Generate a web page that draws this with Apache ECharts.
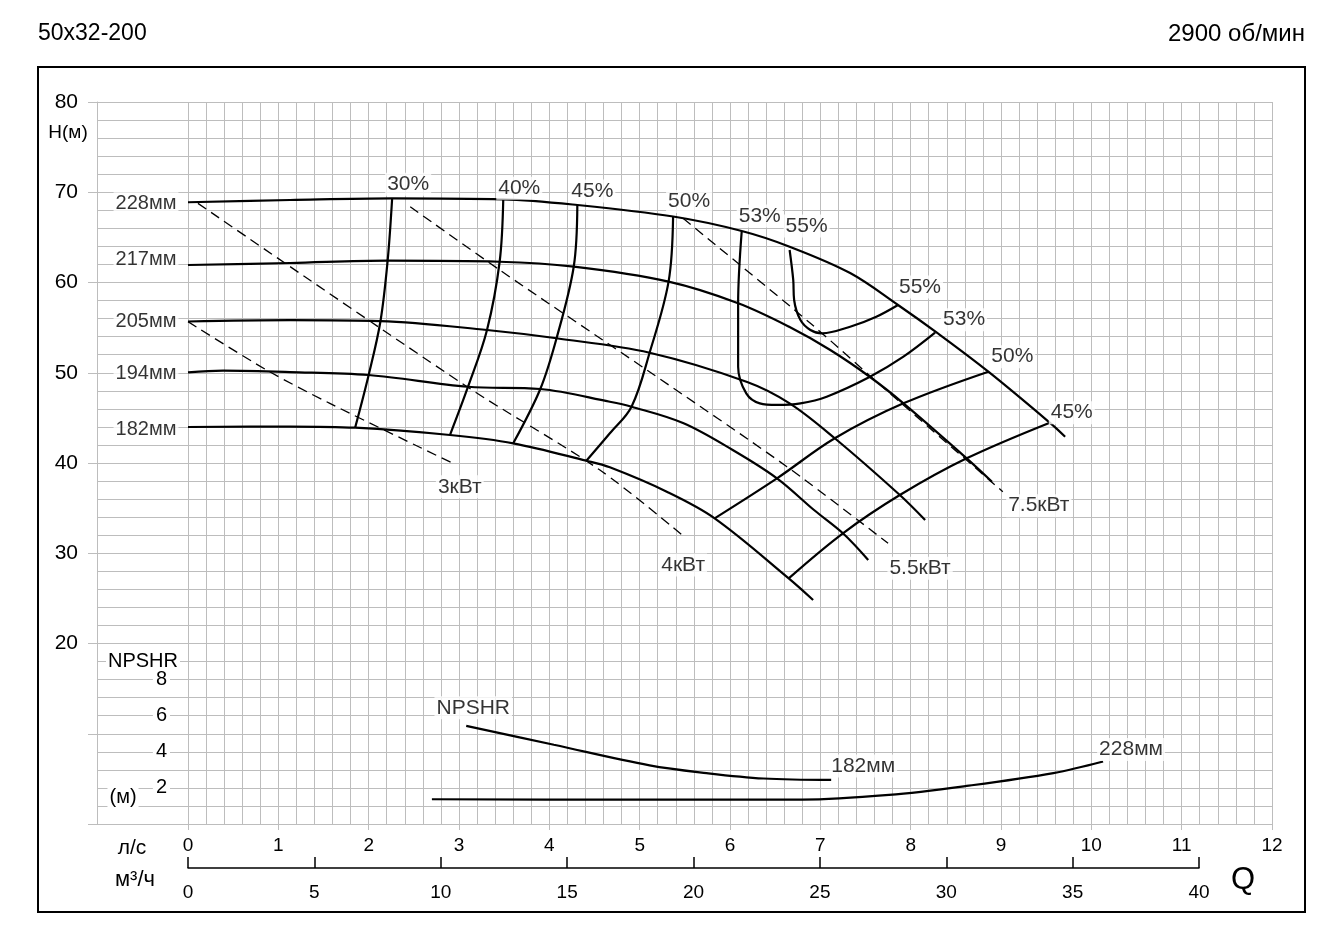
<!DOCTYPE html>
<html>
<head>
<meta charset="utf-8">
<title>50x32-200</title>
<script src="https://cdn.jsdelivr.net/npm/echarts@6/dist/echarts.min.js"></script>
<style>
html, body { margin: 0; padding: 0; background: #fff; }
#main { width: 1340px; height: 950px; }
</style>
</head>
<body>
<div id="main"></div>
<script>
// Q в л/с, H в м, NPSHR в м
var diameters = ['228мм', '217мм', '205мм', '194мм', '182мм'];
var hq228 = [[0,68.89],[1.13,69.14],[2.26,69.33],[3.49,69.22],[4.31,68.59],[5.37,67.31],[6.13,65.71],[6.66,63.97],[7.33,61.05],[7.86,57.51],[8.29,54.44],[8.86,50.12],[9.54,44.47],[9.71,42.91]];
var hq217 = [[0,61.94],[1.13,62.16],[2.21,62.42],[3.45,62.30],[4.27,61.75],[5.32,60.09],[6.09,57.70],[6.66,55.07],[7.11,52.52],[7.55,49.53],[7.92,46.61],[8.62,40.52],[8.90,37.93]];
var hq205 = [[0,55.68],[1.13,55.84],[2.13,55.73],[3.31,54.74],[4.08,53.82],[5.11,52.22],[6.19,48.98],[6.66,46.61],[7.16,42.74],[7.88,36.45],[8.16,33.68]];
var hq194 = [[0,50.05],[0.39,50.23],[1.13,50.08],[2.00,49.75],[3.10,48.45],[3.90,48.20],[4.67,46.79],[4.91,46.24],[5.48,44.43],[6.03,41.44],[6.52,38.30],[6.93,34.79],[7.25,32.21],[7.53,29.25]];
var hq182 = [[0,43.99],[1.13,44.04],[1.85,43.91],[2.90,43.10],[3.60,42.18],[4.41,40.25],[4.67,39.52],[5.30,36.82],[5.83,33.87],[6.65,27.22],[6.92,24.82]];

// линии КПД
var effLabels = ['30%', '40%', '45%', '50%', '53%', '55%', '55%', '53%', '50%', '45%'];
var eff30 = [[2.26,69.33],[2.21,62.42],[2.13,55.68],[2.00,49.75],[1.85,43.91]];
var eff40 = [[3.49,69.22],[3.45,62.30],[3.31,54.74],[3.10,48.45],[2.90,43.10]];
var eff45 = [[4.31,68.59],[4.27,61.75],[4.08,53.82],[3.90,48.20],[3.60,42.18]];
var eff50 = [[5.37,67.31],[5.32,60.09],[5.11,52.22],[4.91,46.24],[4.67,43.29],[4.41,40.25]];
var eff53 = [[6.13,65.71],[6.09,57.70],[6.09,50.67],[6.18,47.72],[6.33,46.61],[6.52,46.43],[6.78,46.61],[7.07,47.35],[7.55,49.56],[7.92,51.78],[8.27,54.44]];
var eff55 = [[6.66,63.60],[6.70,60.28],[6.71,58.06],[6.78,55.84],[6.89,54.74],[7.02,54.37],[7.33,55.10],[7.62,56.21],[7.86,57.51]];
var eff50r = [[8.86,50.12],[7.92,46.61],[7.16,42.74],[6.52,38.30],[5.83,33.87]];
var eff45r = [[9.54,44.47],[8.62,40.52],[7.88,36.45],[7.25,32.21],[6.65,27.22]];

// линии мощности
var powerLabels = ['3кВт', '4кВт', '5.5кВт', '7.5кВт'];
var pw3 = [[0,55.66],[0.87,50.30],[1.57,46.61],[2.92,40.03]];
var pw4 = [[0.11,68.77],[3.09,48.45],[4.56,39.22],[5.47,32.02]];
var pw55 = [[2.46,68.40],[3.45,61.39],[5.08,50.30],[6.63,39.59],[7.75,31.10]];
var pw75 = [[5.48,67.11],[6.89,55.48],[7.69,48.42],[9.02,36.82]];

// NPSHR
var npshLabels = ['NPSHR', '182мм', '228мм'];
var npsh182 = [[3.08,5.44],[4.05,4.39],[5.11,3.25],[5.74,2.82],[6.37,2.52],[7.12,2.44]];
var npsh228 = [[2.70,1.37],[4.78,1.35],[6.80,1.35],[7.76,1.61],[8.62,2.11],[9.58,2.82],[10.13,3.46]];

// подписи осей
var hTicks = [20, 30, 40, 50, 60, 70, 80];
var npshTicks = [2, 4, 6, 8];
var m3hTicks = [0, 5, 10, 15, 20, 25, 30, 35, 40];

//////////////////////////////////////////////////
var FONT = '"Liberation Sans", Arial, sans-serif';
var gridColor = '#bdbdbd';
var black = '#000';

function curve(data, yIdx) {
    return {
        type: 'line', data: data, xAxisIndex: 0, yAxisIndex: yIdx || 0,
        smooth: 0.35, symbol: 'none', silent: true, z: 3,
        lineStyle: { color: black, width: 2.2 }
    };
}
function dashed(data) {
    return {
        type: 'line', data: data, xAxisIndex: 0, yAxisIndex: 0,
        smooth: 0.3, symbol: 'none', silent: true, z: 2,
        lineStyle: { color: black, width: 1.3, type: [10, 6] }
    };
}
function last(a) { return a[a.length - 1]; }
// подписи к точкам кривых
function labels(anchors, texts, offsets, yIdx, size) {
    return {
        type: 'scatter', xAxisIndex: 0, yAxisIndex: yIdx || 0, silent: true, z: 5,
        symbolSize: 1, itemStyle: { color: 'rgba(0,0,0,0)' },
        label: {
            show: true, position: 'inside', color: '#000', fontFamily: FONT,
            fontSize: size || 21, backgroundColor: '#fff', padding: [1, 2]
        },
        data: anchors.map(function (p, i) {
            return { value: p, label: { formatter: texts[i], offset: offsets[i] } };
        })
    };
}

var hqCurves = [hq228, hq217, hq205, hq194, hq182];
var series = [];
hqCurves.forEach(function (c) { series.push(curve(c)); });
[eff30, eff40, eff45, eff50, eff53, eff55, eff50r, eff45r].forEach(function (c) { series.push(curve(c)); });
[pw3, pw4, pw55, pw75].forEach(function (c) { series.push(dashed(c)); });
series.push(curve(npsh182, 1));
series.push(curve(npsh228, 1));

series.push(labels(hqCurves.map(function (c) { return c[0]; }), diameters,
    [[-42, 1], [-42, -6], [-42, 0], [-42, 1], [-42, 2]], 0, 20));
series.push(labels(
    [eff30[0], eff40[0], eff45[0], eff50[0], eff53[0], eff55[0], last(eff55), last(eff53), eff50r[0], eff45r[0]],
    effLabels,
    [[16, -14], [16, -11], [15, -14], [16, -15], [18, -15], [17, -24], [22, -18], [29, -13], [24, -15], [22, -10]]));
series.push(labels([last(pw3), last(pw4), last(pw55), last(pw75)], powerLabels,
    [[8, 24], [1, 30], [32, 25], [36, 14]]));
series.push(labels([npsh182[0], last(npsh182), last(npsh228)], npshLabels,
    [[7, -18], [32, -14], [28, -12]], 1));

var dom = document.getElementById('main');
var myChart = echarts.init(dom);
var option = {
    animation: false,
    backgroundColor: '#fff',
    textStyle: { fontFamily: FONT },
    grid: [
        { left: 188, right: 68, top: 102, bottom: 126, outerBoundsMode: 'none' },
        { left: 97, width: 91, top: 102, bottom: 126, outerBoundsMode: 'none' },
        { left: 188, right: 141, top: 858, height: 10, outerBoundsMode: 'none' }
    ],
    xAxis: [
        {
            gridIndex: 0, type: 'value', min: 0, max: 12, interval: 1,
            axisLine: { show: false },
            axisTick: { show: true, length: 6, lineStyle: { color: gridColor } },
            axisLabel: { margin: 12, fontSize: 19, color: '#000', fontFamily: FONT },
            splitLine: { show: true, lineStyle: { color: gridColor, width: 1 } },
            minorTick: { show: false, splitNumber: 5 },
            minorSplitLine: { show: true, lineStyle: { color: gridColor, width: 1 } }
        },
        { gridIndex: 1, type: 'value', min: 0, max: 1, show: false },
        {
            gridIndex: 2, type: 'value', min: 0, max: 40, interval: 5,
            axisLine: { show: true, lineStyle: { color: black, width: 1.5 } },
            axisTick: { show: true, inside: true, length: 11, lineStyle: { color: black, width: 1.5 } },
            axisLabel: {
                margin: 15, fontSize: 19, color: '#000', fontFamily: FONT,
                formatter: function (v) { return m3hTicks.indexOf(v) >= 0 ? v : ''; }
            },
            splitLine: { show: false }
        }
    ],
    yAxis: [
        {
            gridIndex: 0, type: 'value', min: 0, max: 80, interval: 10,
            axisLine: { show: false }, axisTick: { show: false },
            axisLabel: {
                margin: 110, fontSize: 21, color: '#000', fontFamily: FONT,
                formatter: function (v) { return hTicks.indexOf(v) >= 0 ? v : ''; }
            },
            splitLine: { show: true, lineStyle: { color: gridColor, width: 1 } },
            minorTick: { show: false, splitNumber: 5 },
            minorSplitLine: { show: true, lineStyle: { color: gridColor, width: 1 } }
        },
        {
            gridIndex: 0, type: 'value', min: 0, max: 40, interval: 2, position: 'left',
            axisLine: { show: false }, axisTick: { show: false }, splitLine: { show: false },
            axisLabel: {
                margin: 18, fontSize: 20, color: '#000', fontFamily: FONT,
                backgroundColor: '#fff', padding: [0, 3],
                formatter: function (v) { return npshTicks.indexOf(v) >= 0 ? v : ''; }
            }
        },
        {
            gridIndex: 1, type: 'value', min: 0, max: 80, interval: 10,
            axisLine: { show: true, lineStyle: { color: gridColor, width: 1 } },
            axisTick: { show: true, length: 9, lineStyle: { color: gridColor } },
            axisLabel: { show: false },
            splitLine: { show: true, lineStyle: { color: gridColor, width: 1 } },
            minorTick: { show: false, splitNumber: 5 },
            minorSplitLine: { show: true, lineStyle: { color: gridColor, width: 1 } }
        },
        { gridIndex: 2, type: 'value', min: 0, max: 1, show: false }
    ],
    graphic: [
        { type: 'rect', z: 0, shape: { x: 38, y: 67, width: 1267, height: 845 },
          style: { fill: 'none', stroke: black, lineWidth: 2 } },
        { type: 'text', x: 38, y: 34, style: { text: '50x32-200', font: '23px ' + FONT, fill: '#000', textAlign: 'left', textVerticalAlign: 'middle', verticalAlign: 'middle' } },
        { type: 'text', x: 1305, y: 34, style: { text: '2900 об/мин', font: '24px ' + FONT, fill: '#000', textAlign: 'right', textVerticalAlign: 'middle', verticalAlign: 'middle' } },
        { type: 'text', x: 68, y: 133, style: { text: 'H(м)', font: '19px ' + FONT, fill: '#000', textAlign: 'center', textVerticalAlign: 'middle', verticalAlign: 'middle' } },
        { type: 'text', x: 143, y: 661, z: 10, style: { text: 'NPSHR', font: '20px ' + FONT, fill: '#000', textAlign: 'center', textVerticalAlign: 'middle', verticalAlign: 'middle', backgroundColor: '#fff', padding: [0, 2] } },
        { type: 'text', x: 123, y: 797, z: 10, style: { text: '(м)', font: '20px ' + FONT, fill: '#000', textAlign: 'center', textVerticalAlign: 'middle', verticalAlign: 'middle', backgroundColor: '#fff', padding: [0, 2] } },
        { type: 'text', x: 132, y: 848, style: { text: 'л/с', font: '21px ' + FONT, fill: '#000', textAlign: 'center', textVerticalAlign: 'middle', verticalAlign: 'middle' } },
        { type: 'text', x: 135, y: 880, style: { text: 'м³/ч', font: '22px ' + FONT, fill: '#000', textAlign: 'center', textVerticalAlign: 'middle', verticalAlign: 'middle' } },
        { type: 'text', x: 1243, y: 880, style: { text: 'Q', font: '31px ' + FONT, fill: '#000', textAlign: 'center', textVerticalAlign: 'middle', verticalAlign: 'middle' } }
    ],
    series: series
};
if (option && typeof option === 'object') {
    myChart.setOption(option, true);
}
</script>
</body>
</html>
